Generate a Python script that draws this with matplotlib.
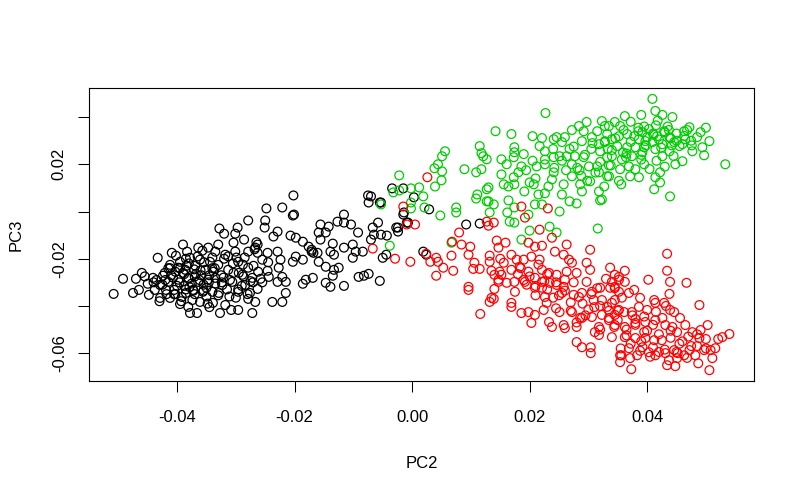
import numpy as np
import matplotlib
matplotlib.use('Agg')
import matplotlib.pyplot as plt

plt.rcParams['font.family'] = ['Liberation Sans', 'DejaVu Sans']
plt.rcParams['axes.unicode_minus'] = False

# PCA scores (PC2, PC3), one pair of lists per group
black_pc2 = [-0.0508, -0.0492, -0.0475, -0.0470, -0.0460, -0.0465, -0.0450, -0.0441, -0.0448, -0.0433,
             -0.0429, -0.0421, -0.0409, -0.0390, -0.0364, -0.0378, -0.0366, -0.0381, -0.0412, -0.0403,
             -0.0395, -0.0386, -0.0378, -0.0369, -0.0361, -0.0352, -0.0415, -0.0405, -0.0398, -0.0388,
             -0.0381, -0.0373, -0.0364, -0.0356, -0.0347, -0.0412, -0.0392, -0.0374, -0.0361, -0.0419,
             -0.0398, -0.0385, -0.0368, -0.0350, -0.0402, -0.0424, -0.0344, -0.0395, -0.0429, -0.0438,
             -0.0383, -0.0357, -0.0202, -0.0248, -0.0221, -0.0203, -0.0201, -0.0279, -0.0328, -0.0320,
             -0.0297, -0.0301, -0.0250, -0.0251, -0.0229, -0.0236, -0.0207, -0.0198, -0.0186, -0.0176,
             -0.0171, -0.0286, -0.0304, -0.0267, -0.0246, -0.0229, -0.0224, -0.0203, -0.0198, -0.0186,
             -0.0227, -0.0221, -0.0229, -0.0215, -0.0181, -0.0186, -0.0263, -0.0215, -0.0221, -0.0238,
             -0.0267, -0.0272, -0.0296, -0.0308, -0.0327, -0.0339, -0.0318, -0.0246, -0.0244, -0.0347,
             -0.0335, -0.0318, -0.0296, -0.0279, -0.0263, -0.0279, -0.0289, -0.0306, -0.0323, -0.0340,
             -0.0296, -0.0284, -0.0272, -0.0262, -0.0330, -0.0313, -0.0335, -0.0301, -0.0255, -0.0075,
             -0.0074, -0.0053, -0.0116, -0.0127, -0.0116, -0.0104, -0.0142, -0.0156, -0.0159, -0.0147,
             -0.0156, -0.0135, -0.0116, -0.0101, -0.0092, -0.0096, -0.0084, -0.0101, -0.0058, -0.0067,
             -0.0065, -0.0070, -0.0053, -0.0043, -0.0027, -0.0024, -0.0050, -0.0044, -0.0171, -0.0168,
             -0.0161, -0.0139, -0.0133, -0.0159, -0.0147, -0.0133, -0.0125, -0.0169, -0.0135, -0.0147,
             -0.0139, -0.0116, -0.0091, -0.0082, -0.0074, -0.0055, -0.0015, -0.0007, -0.0034, -0.0015,
             0.0003, -0.0014, -0.0055, -0.0070, 0.0029, 0.0092, 0.0115, -0.0024, -0.0009, 0.0019,
             0.0024,
             -0.0410, -0.0400, -0.0390, -0.0380, -0.0375, -0.0370, -0.0360, -0.0355, -0.0350, -0.0345,
             -0.0340, -0.0335, -0.0330, -0.0325, -0.0320, -0.0315, -0.0310, -0.0305, -0.0300, -0.0295,
             -0.0290, -0.0285, -0.0280, -0.0275, -0.0270, -0.0265, -0.0255, -0.0245, -0.0385, -0.0405,
             -0.0425, -0.0435, -0.0395, -0.0365, -0.0340, -0.0330, -0.0370, -0.0355, -0.0380, -0.0415,
             -0.0420, -0.0412, -0.0403, -0.0396, -0.0388, -0.0379, -0.0371, -0.0362, -0.0354, -0.0346,
             -0.0338, -0.0329, -0.0321, -0.0313, -0.0304, -0.0296, -0.0288, -0.0279, -0.0271, -0.0263,
             -0.0418, -0.0407, -0.0393, -0.0384, -0.0372, -0.0359, -0.0348, -0.0336, -0.0324, -0.0311,
             -0.0299, -0.0287, -0.0276, -0.0268, -0.0258, -0.0440, -0.0455, -0.0430, -0.0385, -0.0345]
black_pc3 = [-0.0349, -0.0285, -0.0345, -0.0285, -0.0260, -0.0332, -0.0306, -0.0281, -0.0353, -0.0196,
             -0.0366, -0.0260, -0.0175, -0.0140, -0.0153, -0.0430, -0.0430, -0.0404, -0.0226, -0.0255,
             -0.0213, -0.0247, -0.0196, -0.0230, -0.0204, -0.0247, -0.0298, -0.0332, -0.0289, -0.0315,
             -0.0281, -0.0332, -0.0298, -0.0340, -0.0289, -0.0366, -0.0362, -0.0375, -0.0383, -0.0332,
             -0.0238, -0.0345, -0.0264, -0.0323, -0.0187, -0.0272, -0.0213, -0.0392, -0.0311, -0.0332,
             -0.0170, -0.0166, 0.0068, 0.0013, 0.0017, -0.0017, -0.0013, -0.0038, -0.0072, -0.0094,
             -0.0068, -0.0094, -0.0038, -0.0068, -0.0085, -0.0106, -0.0102, -0.0111, -0.0128, -0.0149,
             -0.0170, -0.0119, -0.0132, -0.0153, -0.0175, -0.0170, -0.0204, -0.0213, -0.0191, -0.0204,
             -0.0238, -0.0277, -0.0298, -0.0298, -0.0289, -0.0306, -0.0328, -0.0345, -0.0383, -0.0383,
             -0.0383, -0.0430, -0.0417, -0.0417, -0.0430, -0.0387, -0.0396, -0.0251, -0.0277, -0.0153,
             -0.0170, -0.0183, -0.0213, -0.0170, -0.0140, -0.0238, -0.0268, -0.0298, -0.0311, -0.0340,
             -0.0340, -0.0311, -0.0281, -0.0255, -0.0226, -0.0247, -0.0281, -0.0170, -0.0204, 0.0068,
             0.0038, 0.0038, -0.0013, -0.0043, -0.0047, -0.0055, -0.0064, -0.0055, -0.0089, -0.0089,
             -0.0119, -0.0136, -0.0153, -0.0140, -0.0089, -0.0170, -0.0170, -0.0196, -0.0047, -0.0068,
             -0.0098, -0.0119, -0.0098, -0.0102, -0.0068, -0.0085, -0.0196, -0.0183, -0.0162, -0.0175,
             -0.0175, -0.0170, -0.0183, -0.0213, -0.0234, -0.0247, -0.0238, -0.0281, -0.0272, -0.0302,
             -0.0319, -0.0315, -0.0277, -0.0272, -0.0264, -0.0294, -0.0013, -0.0047, 0.0098, 0.0098,
             0.0060, -0.0004, 0.0038, 0.0064, 0.0009, -0.0055, -0.0051, -0.0068, -0.0047, -0.0170,
             -0.0183,
             -0.0270, -0.0315, -0.0260, -0.0220, -0.0305, -0.0275, -0.0250, -0.0310, -0.0360, -0.0270,
             -0.0240, -0.0305, -0.0355, -0.0270, -0.0200, -0.0330, -0.0290, -0.0220, -0.0365, -0.0260,
             -0.0315, -0.0195, -0.0350, -0.0295, -0.0230, -0.0130, -0.0300, -0.0215, -0.0330, -0.0350,
             -0.0310, -0.0290, -0.0240, -0.0190, -0.0195, -0.0140, -0.0350, -0.0335, -0.0285, -0.0240,
             -0.0290, -0.0240, -0.0350, -0.0300, -0.0265, -0.0320, -0.0245, -0.0290, -0.0215, -0.0300,
             -0.0255, -0.0345, -0.0280, -0.0190, -0.0260, -0.0330, -0.0225, -0.0370, -0.0300, -0.0175,
             -0.0350, -0.0280, -0.0380, -0.0230, -0.0335, -0.0270, -0.0390, -0.0240, -0.0300, -0.0360,
             -0.0195, -0.0275, -0.0345, -0.0160, -0.0285, -0.0300, -0.0275, -0.0380, -0.0200, -0.0405]

green_pc2 = [-0.0022, -0.0032, -0.0022, -0.0002, 0.0012, -0.0002, -0.0002, -0.0053, -0.0038, 0.0038,
             0.0044, 0.0051, 0.0056, 0.0051, 0.0050, 0.0039, 0.0019, 0.0021, 0.0048, 0.0075,
             0.0075, 0.0089, 0.0115, 0.0118, 0.0109, 0.0118, 0.0127, 0.0111, 0.0109, 0.0127,
             0.0130, 0.0067, 0.0227, 0.0142, 0.0169, 0.0205, 0.0221, 0.0217, 0.0226, 0.0241,
             0.0246, 0.0255, 0.0272, 0.0284, 0.0297, 0.0292, 0.0289, 0.0306, 0.0315, 0.0323,
             0.0328, 0.0318, 0.0328, 0.0320, 0.0332, 0.0121, 0.0174, 0.0174, 0.0173, 0.0152,
             0.0161, 0.0152, 0.0156, 0.0164, 0.0174, 0.0173, 0.0181, 0.0186, 0.0190, 0.0212,
             0.0226, 0.0241, 0.0251, 0.0263, 0.0272, 0.0277, 0.0292, 0.0301, 0.0315, 0.0318,
             0.0332, 0.0241, 0.0238, 0.0232, 0.0226, 0.0255, 0.0258, 0.0272, 0.0286, 0.0289,
             0.0303, 0.0318, 0.0320, 0.0200, 0.0207, 0.0191, 0.0215, 0.0130, 0.0127, 0.0139,
             0.0132, 0.0164, 0.0174, 0.0198, 0.0209, 0.0221, 0.0251, 0.0268, 0.0280, 0.0166,
             0.0174, 0.0234, 0.0246, 0.0200, 0.0186, 0.0316, 0.0162, 0.0409, 0.0414, 0.0426,
             0.0443, 0.0390, 0.0362, 0.0345, 0.0335, 0.0354, 0.0472, 0.0463, 0.0491, 0.0506,
             0.0494, 0.0477, 0.0533, 0.0497, 0.0460, 0.0448, 0.0422, 0.0414, 0.0422, 0.0412,
             0.0439, 0.0356, 0.0386, 0.0371, 0.0335, 0.0327, 0.0323, 0.0395, 0.0380, 0.0369,
             0.0354, 0.0340, 0.0357, 0.0374, 0.0392, 0.0426, 0.0438, 0.0455, 0.0465, 0.0392,
             0.0403, 0.0417, 0.0429, 0.0438, 0.0446, 0.0426, 0.0409, 0.0397, 0.0386, 0.0378,
             0.0366, 0.0352, 0.0340, 0.0328, 0.0349, 0.0366, 0.0380, 0.0395, 0.0414, 0.0332,
             0.0400, 0.0410, 0.0420, 0.0430, 0.0440, 0.0450, 0.0415, 0.0435, 0.0385, 0.0360,
             0.0460, 0.0475, 0.0340, 0.0305, 0.0275, 0.0260, 0.0335, 0.0285, 0.0240, 0.0205,
             0.0365, 0.0390, 0.0445, 0.0485, 0.0500,
             0.0255, 0.0268, 0.0281, 0.0294, 0.0307, 0.0320, 0.0333, 0.0346, 0.0359, 0.0372,
             0.0385, 0.0398, 0.0411, 0.0424, 0.0437, 0.0450, 0.0463, 0.0476, 0.0262, 0.0288,
             0.0312, 0.0338, 0.0364, 0.0390, 0.0416, 0.0442, 0.0468, 0.0194, 0.0210, 0.0226,
             0.0242, 0.0298, 0.0352, 0.0404, 0.0430, 0.0395, 0.0372, 0.0418]
green_pc3 = [0.0153, 0.0081, 0.0089, 0.0098, 0.0102, 0.0038, 0.0013, 0.0030, -0.0145, 0.0183,
             0.0200, 0.0234, 0.0255, 0.0170, 0.0132, 0.0106, 0.0064, 0.0017, -0.0017, 0.0017,
             -0.0004, 0.0179, 0.0277, 0.0247, 0.0166, 0.0179, 0.0221, 0.0072, 0.0055, 0.0094,
             0.0043, -0.0132, 0.0417, 0.0340, 0.0328, 0.0319, 0.0311, 0.0277, 0.0255, 0.0306,
             0.0315, 0.0294, 0.0345, 0.0362, 0.0379, 0.0340, 0.0298, 0.0315, 0.0340, 0.0383,
             0.0362, 0.0285, 0.0298, 0.0255, 0.0230, 0.0234, 0.0272, 0.0251, 0.0230, 0.0221,
             0.0200, 0.0157, 0.0115, 0.0106, 0.0115, 0.0145, 0.0166, 0.0191, 0.0243, 0.0191,
             0.0200, 0.0230, 0.0234, 0.0234, 0.0200, 0.0234, 0.0230, 0.0191, 0.0191, 0.0166,
             0.0149, 0.0166, 0.0136, 0.0106, 0.0077, 0.0072, 0.0115, 0.0149, 0.0115, 0.0085,
             0.0128, 0.0085, 0.0047, 0.0123, 0.0115, 0.0085, 0.0072, 0.0102, 0.0043, 0.0030,
             -0.0004, 0.0047, 0.0017, -0.0013, 0.0030, 0.0030, 0.0000, 0.0043, 0.0034, -0.0043,
             -0.0047, -0.0064, -0.0089, -0.0081, -0.0119, -0.0072, -0.0004, 0.0477, 0.0426, 0.0409,
             0.0400, 0.0409, 0.0404, 0.0379, 0.0362, 0.0362, 0.0357, 0.0340, 0.0336, 0.0298,
             0.0272, 0.0255, 0.0200, 0.0238, 0.0213, 0.0200, 0.0166, 0.0145, 0.0123, 0.0094,
             0.0064, 0.0115, 0.0145, 0.0149, 0.0149, 0.0106, 0.0051, 0.0200, 0.0179, 0.0191,
             0.0179, 0.0234, 0.0221, 0.0234, 0.0251, 0.0234, 0.0255, 0.0277, 0.0306, 0.0336,
             0.0349, 0.0319, 0.0340, 0.0315, 0.0294, 0.0285, 0.0294, 0.0298, 0.0306, 0.0319,
             0.0328, 0.0319, 0.0306, 0.0294, 0.0277, 0.0272, 0.0272, 0.0272, 0.0264, 0.0328,
             0.0315, 0.0330, 0.0305, 0.0335, 0.0310, 0.0330, 0.0365, 0.0360, 0.0355, 0.0345,
             0.0285, 0.0300, 0.0260, 0.0265, 0.0275, 0.0315, 0.0195, 0.0175, 0.0265, 0.0215,
             0.0245, 0.0220, 0.0235, 0.0315, 0.0355,
             0.0215, 0.0265, 0.0185, 0.0240, 0.0290, 0.0210, 0.0265, 0.0310, 0.0250, 0.0295,
             0.0340, 0.0280, 0.0325, 0.0270, 0.0345, 0.0300, 0.0320, 0.0280, 0.0175, 0.0150,
             0.0165, 0.0195, 0.0230, 0.0240, 0.0215, 0.0280, 0.0345, 0.0175, 0.0140, 0.0220,
             0.0185, 0.0130, 0.0130, 0.0180, 0.0190, 0.0360, 0.0380, 0.0385]

red_pc2 = [-0.0015, -0.0067, -0.0029, -0.0003, 0.0026, -0.0009, 0.0005, 0.0080, 0.0084, 0.0099,
           0.0127, 0.0130, 0.0041, 0.0067, 0.0096, 0.0068, 0.0024, 0.0031, 0.0044, 0.0053,
           0.0041, 0.0070, 0.0106, 0.0104, 0.0115, 0.0132, 0.0132, 0.0144, 0.0147, 0.0150,
           0.0135, 0.0140, 0.0149, 0.0147, 0.0096, 0.0096, 0.0140, 0.0139, 0.0132, 0.0116,
           0.0186, 0.0192, 0.0217, 0.0159, 0.0198, 0.0209, 0.0221, 0.0238, 0.0263, 0.0243,
           0.0303, 0.0169, 0.0178, 0.0190, 0.0203, 0.0217, 0.0258, 0.0267, 0.0272, 0.0297,
           0.0303, 0.0337, 0.0352, 0.0156, 0.0169, 0.0183, 0.0198, 0.0221, 0.0233, 0.0246,
           0.0263, 0.0280, 0.0297, 0.0320, 0.0337, 0.0340, 0.0152, 0.0147, 0.0161, 0.0174,
           0.0192, 0.0209, 0.0221, 0.0234, 0.0246, 0.0260, 0.0258, 0.0135, 0.0275, 0.0284,
           0.0289, 0.0306, 0.0309, 0.0323, 0.0332, 0.0345, 0.0352, 0.0209, 0.0221, 0.0226,
           0.0229, 0.0224, 0.0209, 0.0198, 0.0186, 0.0169, 0.0169, 0.0251, 0.0272, 0.0289,
           0.0306, 0.0323, 0.0335, 0.0344, 0.0318, 0.0203, 0.0233, 0.0238, 0.0258, 0.0260,
           0.0280, 0.0311, 0.0318, 0.0280, 0.0289, 0.0304, 0.0304, 0.0354, 0.0354, 0.0434,
           0.0434, 0.0439, 0.0467, 0.0402, 0.0362, 0.0438, 0.0412, 0.0414, 0.0429, 0.0439,
           0.0446, 0.0489, 0.0456, 0.0503, 0.0540, 0.0528, 0.0521, 0.0345, 0.0352, 0.0362,
           0.0345, 0.0352, 0.0369, 0.0378, 0.0388, 0.0400, 0.0386, 0.0374, 0.0361, 0.0345,
           0.0345, 0.0362, 0.0380, 0.0397, 0.0414, 0.0426, 0.0431, 0.0443, 0.0451, 0.0465,
           0.0477, 0.0491, 0.0489, 0.0362, 0.0380, 0.0397, 0.0412, 0.0392, 0.0403, 0.0414,
           0.0383, 0.0369, 0.0356, 0.0371, 0.0431, 0.0446, 0.0451, 0.0434, 0.0448, 0.0463,
           0.0472, 0.0482, 0.0487, 0.0497, 0.0508, 0.0511, 0.0516, 0.0506, 0.0373, 0.0340,
           0.0340, 0.0231, 0.0139,
           0.0380, 0.0400, 0.0420, 0.0440, 0.0460, 0.0390, 0.0410, 0.0430, 0.0450, 0.0475,
           0.0365, 0.0350, 0.0335, 0.0310, 0.0295, 0.0270, 0.0250, 0.0230, 0.0210, 0.0190,
           0.0175, 0.0245, 0.0280, 0.0375, 0.0485, 0.0500, 0.0355, 0.0320,
           0.0185, 0.0200, 0.0215, 0.0230, 0.0245, 0.0260, 0.0275, 0.0290, 0.0305, 0.0320,
           0.0335, 0.0350, 0.0365, 0.0380, 0.0395, 0.0410, 0.0425, 0.0440, 0.0455, 0.0470,
           0.0485, 0.0500, 0.0372, 0.0388, 0.0405, 0.0420, 0.0437, 0.0452, 0.0468, 0.0395,
           0.0415, 0.0432, 0.0357, 0.0345, 0.0330, 0.0315, 0.0300, 0.0286, 0.0270, 0.0255,
           0.0240, 0.0225, 0.0210, 0.0195, 0.0180]
red_pc3 = [0.0021, -0.0157, -0.0200, -0.0213, 0.0145, -0.0055, -0.0055, -0.0089, -0.0140, -0.0149,
           -0.0043, -0.0060, -0.0196, -0.0187, -0.0183, -0.0128, -0.0179, -0.0213, -0.0213, -0.0238,
           -0.0272, -0.0251, -0.0217, -0.0243, -0.0243, -0.0187, -0.0213, -0.0123, -0.0153, -0.0200,
           -0.0251, -0.0268, -0.0255, -0.0298, -0.0319, -0.0332, -0.0328, -0.0370, -0.0383, -0.0434,
           0.0021, -0.0026, -0.0077, -0.0132, -0.0132, -0.0149, -0.0145, -0.0111, -0.0140, -0.0170,
           -0.0162, -0.0183, -0.0204, -0.0204, -0.0191, -0.0204, -0.0183, -0.0204, -0.0217, -0.0217,
           -0.0247, -0.0238, -0.0277, -0.0217, -0.0247, -0.0234, -0.0255, -0.0247, -0.0260, -0.0268,
           -0.0255, -0.0260, -0.0298, -0.0323, -0.0323, -0.0298, -0.0268, -0.0289, -0.0302, -0.0298,
           -0.0298, -0.0281, -0.0298, -0.0302, -0.0311, -0.0289, -0.0319, -0.0366, -0.0353, -0.0362,
           -0.0345, -0.0340, -0.0375, -0.0375, -0.0404, -0.0375, -0.0417, -0.0323, -0.0323, -0.0362,
           -0.0387, -0.0417, -0.0438, -0.0426, -0.0430, -0.0387, -0.0404, -0.0426, -0.0426, -0.0451,
           -0.0447, -0.0438, -0.0451, -0.0489, -0.0489, -0.0472, -0.0468, -0.0489, -0.0481, -0.0494,
           -0.0489, -0.0511, -0.0523, -0.0553, -0.0575, -0.0575, -0.0600, -0.0609, -0.0638, -0.0179,
           -0.0251, -0.0298, -0.0302, -0.0289, -0.0251, -0.0349, -0.0375, -0.0387, -0.0387, -0.0417,
           -0.0426, -0.0396, -0.0451, -0.0481, -0.0519, -0.0532, -0.0540, -0.0268, -0.0289, -0.0298,
           -0.0319, -0.0340, -0.0345, -0.0332, -0.0366, -0.0417, -0.0404, -0.0426, -0.0426, -0.0438,
           -0.0481, -0.0489, -0.0472, -0.0468, -0.0460, -0.0451, -0.0481, -0.0489, -0.0511, -0.0481,
           -0.0511, -0.0502, -0.0536, -0.0532, -0.0536, -0.0536, -0.0545, -0.0575, -0.0596, -0.0609,
           -0.0609, -0.0579, -0.0609, -0.0621, -0.0600, -0.0587, -0.0621, -0.0651, -0.0655, -0.0609,
           -0.0587, -0.0609, -0.0643, -0.0587, -0.0587, -0.0621, -0.0579, -0.0672, -0.0668, -0.0387,
           -0.0532, 0.0013, -0.0047,
           -0.0480, -0.0505, -0.0520, -0.0535, -0.0550, -0.0550, -0.0575, -0.0585, -0.0595, -0.0570,
           -0.0525, -0.0460, -0.0420, -0.0405, -0.0440, -0.0385, -0.0355, -0.0330, -0.0315, -0.0290,
           -0.0340, -0.0410, -0.0470, -0.0440, -0.0520, -0.0580, -0.0580, -0.0500,
           -0.0240, -0.0275, -0.0225, -0.0265, -0.0300, -0.0335, -0.0300, -0.0390, -0.0350, -0.0400,
           -0.0460, -0.0420, -0.0500, -0.0455, -0.0510, -0.0480, -0.0545, -0.0505, -0.0560, -0.0530,
           -0.0570, -0.0540, -0.0560, -0.0590, -0.0615, -0.0595, -0.0630, -0.0600, -0.0620, -0.0445,
           -0.0425, -0.0400, -0.0365, -0.0325, -0.0285, -0.0325, -0.0415, -0.0450, -0.0420, -0.0345,
           -0.0365, -0.0295, -0.0355, -0.0310, -0.0265]

fig = plt.figure(figsize=(7.99, 4.94), dpi=100)
ax = fig.add_axes([0.1114, 0.2287, 0.8323, 0.5931])

marker_style = dict(s=40, facecolors='none', linewidths=0.9)
ax.scatter(black_pc2, black_pc3, edgecolors='black', **marker_style)
ax.scatter(green_pc2, green_pc3, edgecolors='#00CD00', **marker_style)
ax.scatter(red_pc2, red_pc3, edgecolors='#FF0000', **marker_style)

# R-style 4% padding around the data range
ax.margins(0.04)

xticks = [-0.04, -0.02, 0.00, 0.02, 0.04]
ax.set_xticks(xticks)
ax.set_xticklabels(['%.2f' % t for t in xticks])
yticks = [0.04, 0.02, 0.00, -0.02, -0.04, -0.06]
ylabels = ['', '0.02', '', '-0.02', '', '-0.06']
ax.set_yticks(yticks)
ax.set_yticklabels(ylabels, rotation=90, va='center')

ax.tick_params(axis='both', direction='out', length=8, width=0.75, labelsize=12, colors='black')
ax.tick_params(axis='x', pad=13)
ax.tick_params(axis='y', pad=8)
for spine in ax.spines.values():
    spine.set_linewidth(0.8)

ax.set_xlabel('PC2', fontsize=12, labelpad=22)
ax.set_ylabel('PC3', fontsize=12, labelpad=20)

fig.savefig('out.png', dpi=100)
